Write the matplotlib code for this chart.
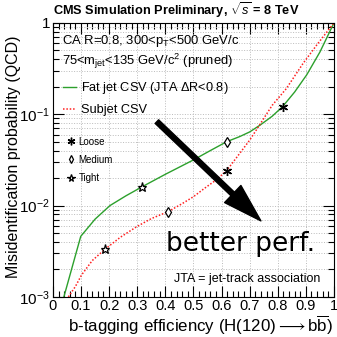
import matplotlib
matplotlib.use("Agg")
import matplotlib.pyplot as plt
import numpy as np
from matplotlib.lines import Line2D
from matplotlib.ticker import MultipleLocator, LogLocator, FixedLocator, NullFormatter, FuncFormatter

plt.rcParams["font.family"] = ["Liberation Sans", "DejaVu Sans"]
plt.rcParams["mathtext.fontset"] = "custom"
plt.rcParams["mathtext.rm"] = "Liberation Sans"
plt.rcParams["mathtext.it"] = "Liberation Sans:italic"
plt.rcParams["mathtext.bf"] = "Liberation Sans:bold"

# ROC curves
eff_fat = [0.039, 0.07, 0.099, 0.15, 0.203, 0.26, 0.318, 0.40, 0.50, 0.56,
           0.618, 0.665, 0.70, 0.737, 0.78, 0.817, 0.86, 0.903, 0.95, 1.0]
mis_fat = [0.001, 0.0022, 0.0046, 0.0071, 0.010, 0.0128, 0.0161, 0.022, 0.0316, 0.040,
           0.050, 0.057, 0.064, 0.076, 0.095, 0.121, 0.175, 0.27, 0.48, 1.0]

eff_sub = [0.055, 0.08, 0.102, 0.14, 0.185, 0.24, 0.298, 0.35, 0.41, 0.46, 0.50,
           0.54, 0.58, 0.618, 0.665, 0.70, 0.73, 0.78, 0.83, 0.89, 0.94, 1.0]
mis_sub = [0.001, 0.0013, 0.00174, 0.0025, 0.00332, 0.0045, 0.00587, 0.0072, 0.00858, 0.0105, 0.0125,
           0.0155, 0.019, 0.0241, 0.0374, 0.052, 0.072, 0.125, 0.19, 0.36, 0.58, 1.0]

# working points (Loose, Medium, Tight)
wp_names = ["Loose", "Medium", "Tight"]
wp_fat_eff = [0.817, 0.618, 0.318]
wp_fat_mis = [0.121, 0.050, 0.0161]
wp_sub_eff = [0.618, 0.41, 0.185]
wp_sub_mis = [0.0241, 0.00858, 0.00332]
wp_markers = [(6, 2, 0), "d", "*"]
wp_sizes = [6.5, 5, 6.5]
wp_mew = [1.0, 0.9, 0.9]

green = "#2ca02c"
red = "#ff2020"

fig = plt.figure(figsize=(3.37, 3.37), dpi=100)
ax = fig.add_axes([0.157, 0.119, 0.834, 0.813])

ax.plot(eff_fat, mis_fat, color=green, lw=1.0, label="Fat jet CSV (JTA $\\Delta$R<0.8)")
ax.plot(eff_sub, mis_sub, color=red, lw=1.1, ls=(0, (1, 1.2)), label="Subjet CSV")

for i in range(3):
    kw = dict(ms=wp_sizes[i], mec="black", mew=wp_mew[i], mfc="white", ls="none", zorder=5)
    ax.plot(wp_fat_eff[i], wp_fat_mis[i], marker=wp_markers[i], **kw)
    ax.plot(wp_sub_eff[i], wp_sub_mis[i], marker=wp_markers[i], **kw)

ax.set_yscale("log")
ax.set_xlim(0, 1)
ax.set_ylim(1e-3, 1)

ax.xaxis.set_major_locator(MultipleLocator(0.1))
ax.xaxis.set_minor_locator(MultipleLocator(0.02))
ax.xaxis.set_major_formatter(FuncFormatter(lambda v, p: f"{round(v, 1):g}"))
ax.yaxis.set_major_locator(FixedLocator([1e-3, 1e-2, 1e-1, 1]))
ax.yaxis.set_major_formatter(FuncFormatter(
    lambda v, p: "1" if v >= 0.99 else "10$^{%d}$" % round(np.log10(v))))
ax.yaxis.set_minor_locator(LogLocator(base=10, subs=np.arange(2, 10)))
ax.yaxis.set_minor_formatter(NullFormatter())

ax.tick_params(which="both", direction="in", top=True, right=True)
ax.tick_params(which="major", length=8, width=0.8)
ax.tick_params(which="minor", length=4, width=0.8)
ax.tick_params(axis="x", pad=1.5, labelsize=10.5)
ax.tick_params(axis="y", pad=2, labelsize=11)

ax.grid(axis="x", which="major", ls=":", color="#bbbbbb", lw=0.7)
ax.grid(axis="y", which="both", ls=":", color="#bbbbbb", lw=0.7)

ax.set_xlabel("b-tagging efficiency (H(120)$\\longrightarrow$b$\\overline{\\mathrm{b}}$)", fontsize=12.2)
ax.xaxis.set_label_coords(0.998, -0.127)
ax.xaxis.label.set_ha("right")
ax.xaxis.label.set_va("baseline")
ax.set_ylabel("Misidentification probability (QCD)", fontsize=11.5)
ax.yaxis.set_label_coords(-0.139, 0.51)
ax.yaxis.label.set_va("center")

fig.text(0.157, 0.97, "CMS Simulation Preliminary, $\\sqrt{s}$ = 8 TeV",
         fontsize=9.2, fontweight="bold", ha="left", va="center")

ax.text(0.032, 0.934, "CA R=0.8, 300<p$_\\mathrm{T}$<500 GeV/c", transform=ax.transAxes,
        fontsize=9.4, va="center")
ax.text(0.032, 0.858, "75<m$_\\mathrm{jet}$<135 GeV/c$^2$ (pruned)", transform=ax.transAxes,
        fontsize=9.4, va="center")

leg1 = ax.legend(loc="upper left", bbox_to_anchor=(0.036, 0.79), frameon=False,
                 fontsize=9.2, handlelength=1.05, handletextpad=0.35, labelspacing=0.6,
                 borderpad=0, borderaxespad=0)
ax.add_artist(leg1)

wp_handles = [Line2D([], [], marker=wp_markers[i], ls="none", mfc="white", mec="black",
                     ms=wp_sizes[i] - 1, mew=wp_mew[i]) for i in range(3)]
ax.legend(wp_handles, wp_names, loc="upper left", bbox_to_anchor=(0.05, 0.585), frameon=False,
          fontsize=7, handlelength=0.8, handletextpad=0.4, labelspacing=0.85,
          borderpad=0, borderaxespad=0)

ax.annotate("", xy=(0.74, 0.0068), xytext=(0.37, 0.083),
            arrowprops=dict(facecolor="black", edgecolor="black", width=3.6,
                            headwidth=17, headlength=28, shrink=0))

ax.text(0.667, 0.166, "better perf.", transform=ax.transAxes, fontsize=19,
        family="DejaVu Sans", ha="center", va="baseline")
ax.text(0.69, 0.066, "JTA = jet-track association", transform=ax.transAxes,
        fontsize=9, ha="center", va="center")

fig.savefig("out.png", dpi=100)
